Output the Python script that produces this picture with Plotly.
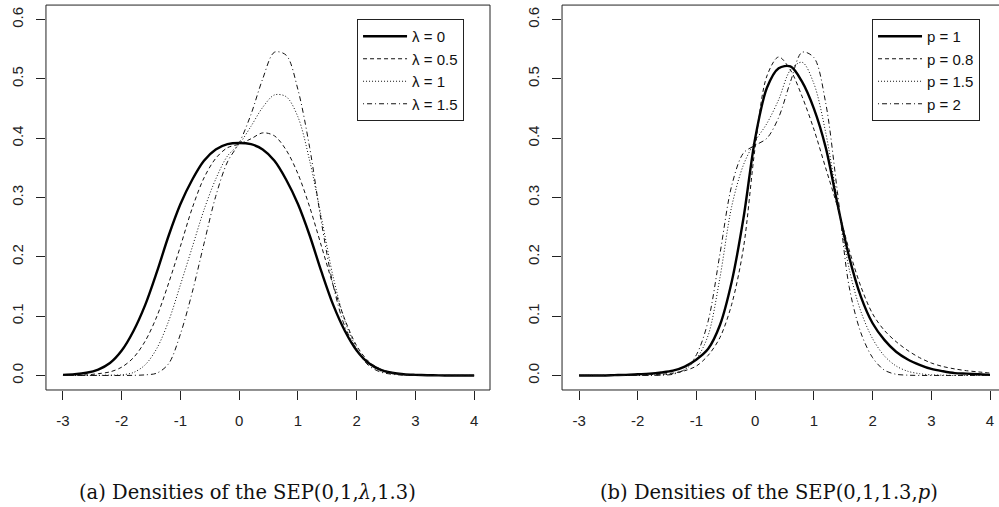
import plotly.graph_objects as go

# ---- data ----
X = [-3.0, -2.8, -2.6, -2.4, -2.2, -2.0, -1.8, -1.6, -1.4, -1.2, -1.0, -0.8, -0.6, -0.4, -0.2,
     0.0, 0.2, 0.4, 0.6, 0.8, 1.0, 1.2, 1.4, 1.6, 1.8, 2.0, 2.2, 2.4, 2.6, 2.8, 3.0, 3.2, 3.4,
     3.6, 3.8, 4.0]

# panel (a): SEP(0,1,lambda,1.3)
lam_0 = [0.001, 0.002, 0.0045, 0.010, 0.021, 0.042, 0.075, 0.119, 0.175, 0.236, 0.289, 0.330,
         0.362, 0.381, 0.390, 0.392, 0.390, 0.381, 0.362, 0.330, 0.289, 0.236, 0.175, 0.119,
         0.075, 0.042, 0.021, 0.010, 0.0045, 0.002, 0.001, 0.0004, 0.0001, 0, 0, 0]
lam_05 = [0, 0.0003, 0.001, 0.003, 0.006, 0.014, 0.030, 0.058, 0.100, 0.156, 0.218, 0.282,
          0.333, 0.366, 0.384, 0.390, 0.399, 0.409, 0.404, 0.380, 0.340, 0.284, 0.218, 0.152,
          0.094, 0.050, 0.024, 0.011, 0.005, 0.002, 0.0008, 0.0003, 0.0001, 0, 0, 0]
lam_1 = [0, 0, 0, 0.0002, 0.0005, 0.001, 0.005, 0.018, 0.046, 0.092, 0.153, 0.216, 0.279,
         0.331, 0.370, 0.390, 0.420, 0.452, 0.473, 0.470, 0.436, 0.362, 0.266, 0.166, 0.092,
         0.046, 0.020, 0.008, 0.003, 0.001, 0.0004, 0.0001, 0, 0, 0, 0]
lam_15 = [0, 0, 0, 0, 0, 0, 0.0002, 0.001, 0.004, 0.020, 0.070, 0.140, 0.222, 0.302, 0.360,
          0.392, 0.440, 0.500, 0.545, 0.540, 0.482, 0.384, 0.258, 0.152, 0.082, 0.044, 0.017,
          0.006, 0.002, 0.0005, 0.0001, 0, 0, 0, 0, 0]

# panel (b): SEP(0,1,1.3,p)
p_1 = [0, 0, 0, 0.0005, 0.001, 0.002, 0.003, 0.005, 0.008, 0.015, 0.027, 0.045, 0.085, 0.158,
       0.265, 0.400, 0.485, 0.518, 0.521, 0.495, 0.450, 0.385, 0.290, 0.200, 0.133, 0.088,
       0.060, 0.040, 0.027, 0.018, 0.011, 0.007, 0.004, 0.003, 0.002, 0.001]
p_08 = [0, 0, 0, 0, 0.0005, 0.001, 0.0015, 0.002, 0.004, 0.008, 0.016, 0.034, 0.064, 0.120,
        0.215, 0.385, 0.505, 0.537, 0.515, 0.470, 0.415, 0.350, 0.285, 0.212, 0.150, 0.104,
        0.076, 0.057, 0.042, 0.030, 0.021, 0.015, 0.011, 0.008, 0.006, 0.004]
p_15 = [0, 0, 0, 0, 0, 0.0002, 0.0005, 0.001, 0.003, 0.010, 0.028, 0.068, 0.165, 0.285, 0.355,
        0.395, 0.425, 0.465, 0.515, 0.528, 0.492, 0.410, 0.295, 0.180, 0.108, 0.062, 0.033,
        0.016, 0.007, 0.003, 0.001, 0.0005, 0, 0, 0, 0]
p_2 = [0, 0, 0, 0, 0, 0, 0, 0.0005, 0.002, 0.010, 0.035, 0.092, 0.205, 0.320, 0.375, 0.388,
       0.400, 0.435, 0.495, 0.545, 0.536, 0.460, 0.310, 0.150, 0.072, 0.030, 0.009, 0.002,
       0.0005, 0, 0, 0, 0, 0, 0, 0]

LEFT_NAMES = ["λ = 0", "λ = 0.5", "λ = 1", "λ = 1.5"]
RIGHT_NAMES = ["p = 1", "p = 0.8", "p = 1.5", "p = 2"]
X_TICKS = [-3, -2, -1, 0, 1, 2, 3, 4]
X_TICK_TEXT = ["-3", "-2", "-1", "0", "1", "2", "3", "4"]
Y_TICKS = [0.0, 0.1, 0.2, 0.3, 0.4, 0.5, 0.6]
Y_TICK_TEXT = ["0.0", "0.1", "0.2", "0.3", "0.4", "0.5", "0.6"]
CAPTIONS = ["(a) Densities of the SEP(0,1,<i>λ</i>,1.3)",
            "(b) Densities of the SEP(0,1,1.3,<i>p</i>)"]

STYLES = [dict(width=2.4, dash="solid", color="#000000"),
          dict(width=1, dash="4px,3px", color="#111111"),
          dict(width=1, dash="1px,2px", color="#111111"),
          dict(width=1, dash="1px,3px,5px,3px", color="#111111")]

fig = go.Figure()

for ys, name, st in zip([lam_0, lam_05, lam_1, lam_15], LEFT_NAMES, STYLES):
    fig.add_trace(go.Scatter(x=X, y=ys, name=name, mode="lines",
                             line=dict(shape="spline", smoothing=0.9, **st),
                             xaxis="x", yaxis="y", legend="legend"))
for ys, name, st in zip([p_1, p_08, p_15, p_2], RIGHT_NAMES, STYLES):
    fig.add_trace(go.Scatter(x=X, y=ys, name=name, mode="lines",
                             line=dict(shape="spline", smoothing=0.9, **st),
                             xaxis="x2", yaxis="y2", legend="legend2"))

TICKFONT = dict(family="Liberation Sans, Arial, sans-serif", size=15, color="#222222")
ax_common = dict(showgrid=False, zeroline=False, showline=False, ticks="outside",
                 tickcolor="#222222", tickwidth=1, tickfont=TICKFONT)
LEGFONT = dict(family="Liberation Sans, Arial, sans-serif", size=15, color="#111111")

fig.update_layout(
    width=999, height=507,
    margin=dict(l=0, r=0, t=0, b=0),
    paper_bgcolor="white", plot_bgcolor="white",
    showlegend=True,
    xaxis=dict(domain=[0.046, 0.4905], range=[-3.29, 4.27], anchor="y",
               tickvals=X_TICKS, ticktext=X_TICK_TEXT, ticklen=9, ticklabelstandoff=8,
               **ax_common),
    yaxis=dict(domain=[0.2308, 0.990], range=[-0.0245, 0.6245], anchor="x",
               tickvals=Y_TICKS, ticktext=Y_TICK_TEXT, ticklen=9, tickangle=-90,
               ticklabelstandoff=7, **ax_common),
    xaxis2=dict(domain=[0.5626, 1.0], range=[-3.29, 4.153], anchor="y2",
                tickvals=X_TICKS, ticktext=X_TICK_TEXT, ticklen=9, ticklabelstandoff=8,
                **ax_common),
    yaxis2=dict(domain=[0.2308, 0.990], range=[-0.0245, 0.6245], anchor="x2",
                tickvals=Y_TICKS, ticktext=Y_TICK_TEXT, ticklen=9, tickangle=-90,
                ticklabelstandoff=7, **ax_common),
    legend=dict(x=0.3574, y=0.9625, xanchor="left", yanchor="top", bgcolor="white",
                bordercolor="#222222", borderwidth=1, itemwidth=44, font=LEGFONT),
    legend2=dict(x=0.8729, y=0.9625, xanchor="left", yanchor="top", bgcolor="white",
                 bordercolor="#222222", borderwidth=1, itemwidth=44, font=LEGFONT),
)

# plot frames (R-style box)
fig.add_shape(type="rect", xref="x domain", yref="y domain", x0=0, x1=1, y0=0, y1=1,
              line=dict(color="#222222", width=1), layer="above")
fig.add_shape(type="rect", xref="x2 domain", yref="y2 domain", x0=0, x1=1.03, y0=0, y1=1,
              line=dict(color="#222222", width=1), layer="above")

for cx, txt in zip([0.2482, 0.7693], CAPTIONS):
    fig.add_annotation(x=cx, y=0.028, xref="paper", yref="paper", text=txt, showarrow=False,
                       xanchor="center", yanchor="middle",
                       font=dict(family="DejaVu Serif, serif", size=19.5, color="#111111"))

fig.write_html("out.html")
